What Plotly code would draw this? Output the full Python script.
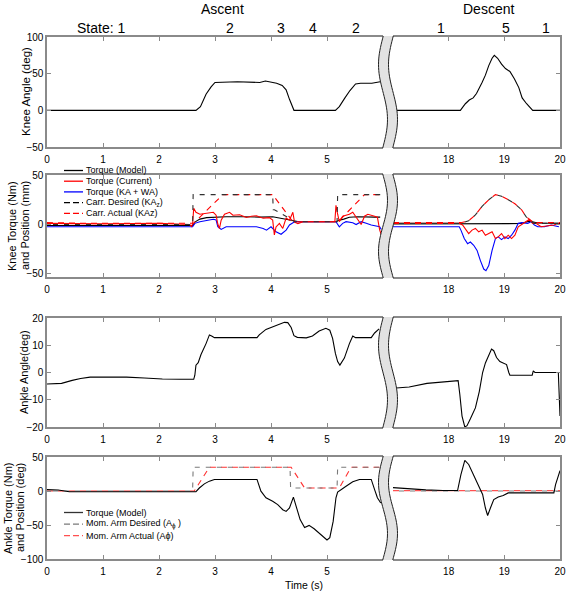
import numpy as np
import plotly.graph_objects as go

# ---------------- data ----------------
# Knee angle (deg)
ka_asc_t = [0, 2.66, 2.74, 2.84, 2.93, 3.00, 3.40, 3.60, 3.80, 3.90, 4.00, 4.10, 4.20, 4.27, 4.33, 4.38, 4.41,
            5.15, 5.22, 5.32, 5.41, 5.51, 5.60, 5.80, 5.95]
ka_asc = [0, 0, 5, 22, 32, 38, 39, 38, 38, 40, 39, 37, 34, 28, 15, 4, 0, 0, 5, 17, 27, 36, 37, 37, 39]
ka_desc_t = [17.0, 18.21, 18.30, 18.37, 18.44, 18.50, 18.60, 18.66, 18.72, 18.78, 18.82, 18.88, 18.95, 19.02,
             19.10, 19.18, 19.26, 19.32, 19.40, 19.48, 19.51, 20.0]
ka_desc = [0, 0, 9, 14, 17, 23, 38, 48, 61, 71, 75, 71, 63, 57, 53, 43, 31, 17, 9, 1.5, 0, 0]

# Knee torque / carriage position
cd_asc_t = [0, 2.60, 2.61, 4.03, 4.04, 4.06, 4.33, 4.42, 5.18, 5.19, 5.95]
cd_asc = [-0.5, -0.5, 30, 30, 14.5, 14.5, 5.9, 2.4, 2.4, 30, 30]
ca_asc_t = [0, 0.3, 0.6, 2.62, 3.14, 4.03, 4.39, 5.20, 5.67, 5.95]
ca_asc = [1.5, 1.0, 0.8, 0.8, 30, 30, 2.4, 2.4, 30, 30]
tm_asc_t = [0, 2.60, 2.64, 2.73, 2.85, 3.00, 3.20, 3.50, 3.80, 4.03, 4.15, 4.27, 4.39, 4.50, 5.16, 5.22, 5.30,
            5.40, 5.55, 5.70, 5.85, 5.95]
tm_asc = [-1.5, -1.5, 2, 5, 6.5, 7, 7.5, 7.5, 7, 7.5, 6, 4.5, 3, 2.4, 2.4, 4, 5, 7, 7.5, 7, 7, 7]
tc_asc_t = [0, 1.0, 2.0, 2.55, 2.58, 2.60, 2.62, 2.66, 2.73, 2.85, 2.97, 3.02, 3.05, 3.08, 3.11, 3.17, 3.26,
            3.32, 3.44, 3.56, 3.65, 3.74, 3.86, 3.97, 4.03, 4.06, 4.09, 4.15, 4.21, 4.27, 4.33, 4.39, 4.42,
            4.48, 4.57, 5.14, 5.16, 5.19, 5.22, 5.28, 5.40, 5.46, 5.52, 5.58, 5.61, 5.67, 5.73, 5.85, 5.90,
            5.94, 5.97]
tc_asc = [0.7, 0.2, 0.7, -0.5, -2.5, 0, 16, 12, 10, 11, 12, 9, 0, -4.5, 4, 10, 12, 9, 9.5, 6.7, 8, 8.5, 6,
          6.5, 4, -11, -3, 0.7, -4.5, 6, 4, 12, 2, 0.5, 2.4, 2.4, 19, 10, 2.4, 8, 10, 12, 7, 3, -0.5, 8, 10,
          8, 7, -6, -11]
tb_asc_t = [0, 2.60, 2.64, 2.73, 2.97, 3.02, 3.05, 3.11, 3.20, 3.44, 3.56, 3.74, 3.86, 3.92, 4.00, 4.09, 4.18,
            4.27, 4.33, 4.42, 4.50, 5.16, 5.22, 5.28, 5.34, 5.46, 5.52, 5.61, 5.70, 5.79, 5.94, 5.97]
tb_asc = [-2.8, -2.8, 0.7, 2.4, 4.8, 4.1, -2.8, -5.5, -2.8, -2.8, -2.2, -2.8, -4.5, -6.2, -2.8, -7.9, -10.4,
          -6.2, -1, 2.4, 2.4, 2.4, -2.8, 0.7, 2.4, 1.4, -0.5, 2.4, 0.7, -1, -2.8, -5.5]

cd_desc_t = [17.0, 18.22, 18.36, 18.48, 18.60, 18.72, 18.84, 18.95, 19.07, 19.19, 19.31, 19.39, 19.48, 19.54, 20.0]
cd_desc = [0.7, 0.7, 3.4, 9.3, 18, 24.8, 30, 28.3, 24.8, 20.7, 14.5, 7.6, 2.4, 0.7, 0.7]
ca_desc_t = [17.0, 18.22, 18.36, 18.48, 18.60, 18.72, 18.84, 18.95, 19.07, 19.19, 19.31, 19.39, 19.45, 19.51,
             19.57, 20.0]
ca_desc = [1.4, 1.4, 3.4, 9.3, 18, 24.8, 30, 28.3, 24.8, 20.7, 14.5, 7.6, 4.8, 2.4, 1.4, 1.4]
tm_desc_t = [17.0, 18.2, 19.3, 19.45, 19.6, 20.0]
tm_desc = [0, 0, 0.5, 3, 1, 0.7]
tc_desc_t = [17.0, 18.19, 18.25, 18.31, 18.36, 18.42, 18.48, 18.54, 18.60, 18.66, 18.72, 18.78, 18.84, 18.89,
             18.95, 19.01, 19.07, 19.13, 19.19, 19.25, 19.36, 19.45, 19.51, 19.57, 19.66, 19.78, 19.89, 19.98]
tc_desc = [0.7, 0.7, -1, -6.2, -9.7, -6.2, -4.5, -7.9, -6.2, -11.4, -9.7, -7.9, -14.8, -13.1, -9.7, -14.8,
           -11.4, -14.8, -11.4, -2.8, 1.4, 4.8, 0.7, 0.7, -2.8, -2.2, -1, 0.7]
tb_desc_t = [17.0, 18.19, 18.22, 18.28, 18.34, 18.39, 18.45, 18.51, 18.57, 18.63, 18.67, 18.72, 18.78, 18.84,
             18.89, 18.95, 19.01, 19.07, 19.13, 19.19, 19.25, 19.31, 19.42, 19.48, 19.54, 19.60, 19.72, 19.84, 19.98]
tb_desc = [-2.8, -2.8, -6.2, -14.8, -20, -18.3, -21.7, -26.9, -37.3, -45.9, -47.6, -42.4, -26.9, -14.8, -13.1,
           -15.9, -13.1, -14.8, -11.4, -6.2, 0.7, 1.4, 0.7, 2.4, -1, -2.8, -2.8, -1, -2.8]

# Ankle angle (deg)
aa_asc_t = [0, 0.15, 0.26, 0.45, 0.60, 0.77, 1.10, 1.42, 1.74, 2.06, 2.38, 2.62, 2.64, 2.66, 2.70, 2.75, 2.84,
            2.90, 2.94, 2.99, 3.75, 3.79, 3.91, 4.03, 4.15, 4.24, 4.30, 4.36, 4.41, 4.47, 4.63, 4.74, 4.86,
            4.98, 5.05, 5.10, 5.15, 5.19, 5.23, 5.31, 5.40, 5.46, 5.51, 5.79, 5.85, 5.93]
aa_asc = [-4.2, -4.2, -4.0, -2.9, -2.2, -1.7, -1.6, -1.7, -2.0, -2.4, -2.5, -2.5, -1.0, 2.7, 3.6, 6.6, 10.6,
          13.8, 13.4, 12.8, 12.8, 13.8, 15.8, 16.7, 17.8, 18.4, 18.3, 16.5, 13.5, 12.9, 12.7, 13.4, 15.2,
          16.2, 15.5, 12.5, 7.0, 4.0, 2.7, 5.3, 10.6, 13.4, 12.8, 12.8, 14.5, 16.0]
aa_desc_t = [17.0, 17.29, 17.61, 17.94, 18.17, 18.20, 18.24, 18.29, 18.33, 18.39, 18.48, 18.55, 18.61, 18.66,
             18.71, 18.77, 18.81, 18.86, 18.92, 19.00, 19.04, 19.08, 19.10, 19.50, 19.52, 19.55, 19.97, 20.0]
aa_desc = [-5.8, -5.3, -4.0, -3.3, -3.0, -8, -16, -20, -19.5, -17, -13, -7, 0, 3.5, 6, 8.6, 8, 5.5, 4, 3.4,
           2.9, 0, -1, -1, 0.6, 0, 0, -16]

# Ankle torque / moment arm
at_asc_t = [0, 0.2, 0.4, 2.66, 2.72, 2.81, 2.90, 2.99, 3.75, 3.78, 3.82, 3.91, 4.03, 4.12, 4.21, 4.27, 4.33,
            4.40, 4.45, 4.52, 4.60, 4.68, 4.77, 4.89, 5.00, 5.05, 5.11, 5.16, 5.19, 5.34, 5.46, 5.58, 5.79,
            5.85, 5.90, 5.96]
at_asc = [2, 1.5, -1, -1, 4.4, 10.5, 14.5, 17, 17, 9.5, -0.3, -10, -15, -20, -27.5, -30, -25, -9, -22.5, -42,
          -53.6, -50.6, -55.5, -64.5, -72, -68.6, -44.7, -10, -1.5, 7, 13.5, 17, 17, 2, -10, -17.6]
md_asc_t = [0, 2.60, 2.61, 4.34, 4.35, 5.18, 5.19, 5.95]
md_asc = [0, 0, 35, 35, 4.4, 4.4, 35, 35]
ma_asc_t = [0, 2.63, 2.90, 4.36, 4.60, 5.22, 5.43, 5.95]
ma_asc = [0, 0, 35, 35, 4.4, 4.4, 35, 35]
at_desc_t = [17.0, 17.06, 17.35, 17.59, 17.90, 18.16, 18.22, 18.29, 18.36, 18.45, 18.54, 18.61, 18.66, 18.70,
             18.75, 18.81, 18.89, 18.98, 19.07, 19.31, 19.89, 19.92, 19.98, 20.0]
at_desc = [5, 4.6, 2.6, 1.7, 0.7, 0.7, 24, 45, 39, 24, 7, -5, -25, -36, -25, -12.6, -8.7, -6.7, -2.8, -2.8,
           -2.8, 9.5, 26.8, 30]
md_desc_t = [17.0, 20.0]
md_desc = [0, 0]
ma_desc_t = [17.0, 20.0]
ma_desc = [0.5, 0.5]

asc_ticks = [0, 1, 2, 3, 4, 5]
desc_ticks = [18, 19, 20]
y_ranges = [[-50, 100], [-54, 50], [-20, 20], [-100, 50]]
y_dticks = [50, 50, 10, 50]
state_labels = ["2", "3", "4", "2", "1", "5", "1"]

# ---------------- layout helpers ----------------
W, H = 567, 593
FONT = "Liberation Sans, Arial, Helvetica, sans-serif"
AX = "#8a8a8a"


def px(x):
    return x / W


def py(y):
    return 1 - y / H


ROWS = [(37, 147), (175, 277), (318, 427), (457, 559)]
XL = (47, 383)
XR = (393, 560)

fig = go.Figure()
layout = {}
for r in range(4):
    top, bot = ROWS[r]
    for side in range(2):
        k = 2 * r + side + 1
        xn = "xaxis" if k == 1 else f"xaxis{k}"
        yn = "yaxis" if k == 1 else f"yaxis{k}"
        xid = "x" if k == 1 else f"x{k}"
        yid = "y" if k == 1 else f"y{k}"
        if side == 0:
            xd, xr, tv = XL, [0, 6], asc_ticks
        else:
            xd, xr, tv = XR, [17, 20], desc_ticks
        layout[xn] = dict(domain=[px(xd[0]), px(xd[1])], range=xr, anchor=yid, tickvals=tv,
                          ticks="inside", ticklen=4, tickcolor=AX, showline=True, linecolor=AX,
                          linewidth=1.6, mirror="ticks", showgrid=False, zeroline=False,
                          tickfont=dict(size=10, color="black", family=FONT), ticklabelstandoff=2,
                          automargin=False)
        layout[yn] = dict(domain=[py(bot), py(top)], range=y_ranges[r], anchor=xid, tickmode="linear",
                          tick0=0, dtick=y_dticks[r], ticks="inside", ticklen=4, tickcolor=AX,
                          showline=True, linecolor=AX, linewidth=1.6, showgrid=False, zeroline=False,
                          tickfont=dict(size=10, color="black", family=FONT), automargin=False)
        if side == 1:
            layout[yn].update(side="right", showticklabels=False)


def ax(r, side):
    k = 2 * r + side + 1
    return ("x" if k == 1 else f"x{k}"), ("y" if k == 1 else f"y{k}")


def line(r, side, t, v, color, dash=None, width=1.1):
    xa, ya = ax(r, side)
    fig.add_trace(go.Scatter(x=t, y=v, mode="lines", xaxis=xa, yaxis=ya, showlegend=False,
                             line=dict(color=color, width=width, dash=dash), hoverinfo="skip"))


DASH_A = "6px,5px"          # drawn first
DASH_B = "0px,6px,5px,0px"  # interleaves with DASH_A
DARK = "#303030"
GRAY = "#7a7a7a"

# row 1
line(0, 0, ka_asc_t, ka_asc, "black")
line(0, 1, ka_desc_t, ka_desc, "black")
# row 2
for side, (cdt, cdv, cat, cav, tmt, tmv, tct, tcv, tbt, tbv) in enumerate([
        (cd_asc_t, cd_asc, ca_asc_t, ca_asc, tm_asc_t, tm_asc, tc_asc_t, tc_asc, tb_asc_t, tb_asc),
        (cd_desc_t, cd_desc, ca_desc_t, ca_desc, tm_desc_t, tm_desc, tc_desc_t, tc_desc, tb_desc_t, tb_desc)]):
    line(1, side, tmt, tmv, "black")
    line(1, side, tbt, tbv, "#0000ff")
    line(1, side, tct, tcv, "#ff0000")
    line(1, side, cat, cav, "#ff0000", DASH_A)
    line(1, side, cdt, cdv, DARK, DASH_B)
# row 3
line(2, 0, aa_asc_t, aa_asc, "black")
line(2, 1, aa_desc_t, aa_desc, "black")
# row 4
line(3, 0, ma_asc_t, ma_asc, "#ff3030", DASH_A)
line(3, 0, md_asc_t, md_asc, GRAY, DASH_B)
line(3, 0, at_asc_t, at_asc, "black")
line(3, 1, md_desc_t, md_desc, GRAY, DASH_B)
line(3, 1, ma_desc_t, ma_desc, "#ff5050", DASH_A)
line(3, 1, at_desc_t, at_desc, "black")

# ---------------- axis break bands ----------------
shapes = []
for r, (top, bot) in enumerate(ROWS):
    sgn = -1 if r == 1 else 1
    ys = np.linspace(top - 1, bot + 1, 40)
    s = (ys - top) / (bot - top)
    c = 388.0 - sgn * 4.5 * np.sin(2 * np.pi * s)
    xl, xr = c - 5.0, c + 5.0

    def pth(xx, yy):
        return "M " + " L ".join(f"{px(a):.5f},{py(b):.5f}" for a, b in zip(xx, yy))

    fill = pth(np.concatenate([xl, xr[::-1]]), np.concatenate([ys, ys[::-1]])) + " Z"
    shapes.append(dict(type="path", path=fill, xref="paper", yref="paper", fillcolor="#e2e2e2",
                       line=dict(width=0), layer="above"))
    for xx in (xl, xr):
        shapes.append(dict(type="path", path=pth(xx, ys), xref="paper", yref="paper",
                           fillcolor="rgba(0,0,0,0)", line=dict(color="#222", width=1), layer="above"))

# ---------------- legends (drawn) ----------------
annotations = []
leg2 = [("Torque (Model)", "black", None), ("Torque (Current)", "#ff0000", None),
        ("Torque (KA + WA)", "#0000ff", None), ("Carr. Desired (KA<sub>z</sub>)", "black", "dash"),
        ("Carr. Actual (KAz)", "#ff0000", "dash")]
leg4 = [("Torque (Model)", "#333333", None), ("Mom. Arm Desired (A<sub>ϕ</sub> )", GRAY, "dash"),
        ("Mom. Arm Actual (Aϕ)", "#ff5050", "dash")]
for items, y0, dy in [(leg2, 170.5, 10.7), (leg4, 512.5, 11.6)]:
    for i, (txt, col, dsh) in enumerate(items):
        yy = y0 + i * dy
        shapes.append(dict(type="line", xref="paper", yref="paper", x0=px(64), x1=px(83), y0=py(yy), y1=py(yy),
                           line=dict(color=col, width=1.3, dash="6px,3px" if dsh else None)))
        annotations.append(dict(text=txt, x=px(85), y=py(yy), xref="paper", yref="paper", xanchor="left",
                                yanchor="middle", showarrow=False, borderpad=0,
                                font=dict(size=9, color="black", family=FONT)))


# ---------------- texts ----------------
def text(t, x, y, size, angle=0, anchor="center"):
    annotations.append(dict(text=t, x=px(x), y=py(y), xref="paper", yref="paper", xanchor=anchor,
                            yanchor="middle", showarrow=False, textangle=angle, borderpad=0,
                            font=dict(size=size, color="black", family=FONT)))


text("Ascent", 222, 9, 14)
text("Descent", 488, 9, 14)
text("State: 1", 76, 28, 14, anchor="left")
state_x = [230, 281, 313, 356, 441, 506, 546]
for lab, xx in zip(state_labels, state_x):
    text(lab, xx, 28, 14)
text("Knee Angle (deg)", 26, 92, 11.5, -90)
text("Knee Torque (Nm)", 12, 226, 11, -90)
text("and Position (mm)", 25, 226, 11, -90)
text("Ankle Angle(deg)", 24, 372, 11, -90)
text("Ankle Torque (Nm)", 8, 508, 11, -90)
text("and Position (deg)", 20, 508, 11, -90)
text("Time (s)", 304, 585, 10.5)

fig.update_layout(**layout)
fig.update_layout(width=W, height=H, margin=dict(l=0, r=0, t=0, b=0, autoexpand=False), plot_bgcolor="white",
                  paper_bgcolor="white", showlegend=False, shapes=shapes, annotations=annotations,
                  font=dict(family=FONT, color="black"))
fig.write_html("out.html", config={"displayModeBar": False, "staticPlot": True},
               post_script="document.body.style.margin='0';document.body.style.padding='0';"
                           "document.body.style.overflow='hidden';")
